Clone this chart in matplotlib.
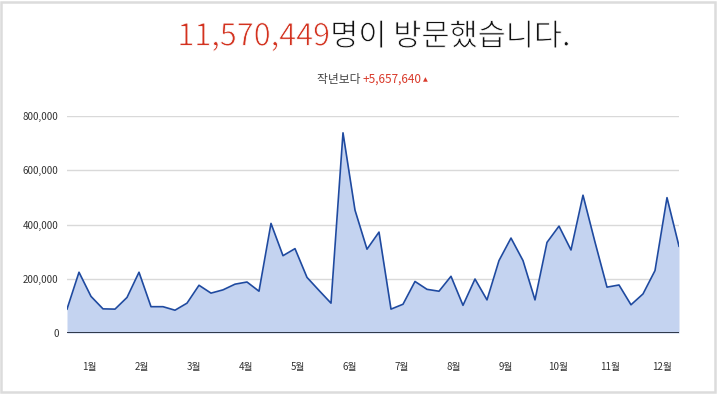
import matplotlib
matplotlib.use("Agg")
import matplotlib.pyplot as plt
from matplotlib.patches import Rectangle
from matplotlib.ticker import FuncFormatter
import matplotlib.patheffects as pe

plt.rcParams['font.family'] = ['Noto Sans CJK KR', 'DejaVu Sans']

# Weekly visitors (52 weeks)
visitors = [88000, 224000, 135000, 89000, 88000, 131000, 224000, 97000, 97000, 84000,
            110000, 176000, 147000, 159000, 180000, 188000, 154000, 404000, 285000, 311000,
            205000, 157000, 110000, 738000, 453000, 309000, 372000, 88000, 106000, 190000,
            161000, 154000, 209000, 102000, 199000, 122000, 267000, 350000, 267000, 122000,
            334000, 394000, 306000, 508000, 335000, 169000, 177000, 104000, 144000, 230000,
            499000, 320000]
month_labels = ['1월', '2월', '3월', '4월', '5월', '6월', '7월', '8월', '9월', '10월', '11월', '12월']
y_ticks = [0, 200000, 400000, 600000, 800000]
total_text = '11,570,449'
title_rest = '명이 방문했습니다.'
sub_label = '작년보다 '
sub_value = '+5,657,640'

fig = plt.figure(figsize=(7.2, 3.94), dpi=100)
fig.patch.set_facecolor('white')
fig.add_artist(Rectangle((0.002, 0.004), 0.991, 0.992, transform=fig.transFigure,
                         fill=False, edgecolor='#dcdcdc', linewidth=1.8))

ax = fig.add_axes([67/720, 1-333/394, (679-67)/720, (333-116)/394])
x = list(range(len(visitors)))
ax.fill_between(x, visitors, 0, color='#c4d3f0', linewidth=0)
ax.plot(x, visitors, color='#1f4aa0', linewidth=1.2)
ax.set_xlim(0, len(visitors) - 1)
ax.set_ylim(0, 800000)
ax.set_yticks(y_ticks)
ax.yaxis.set_major_formatter(FuncFormatter(lambda v, p: f'{int(v):,}'))
ax.grid(axis='y', color='#d9d9d9', linewidth=1)
ax.set_axisbelow(True)
ax.axhline(0, color='#222a3a', linewidth=1.3)
n = len(visitors)
month_pos = [(m + 0.5) * n / 12 - 0.27 for m in range(12)]
ax.set_xticks(month_pos)
ax.set_xticklabels(month_labels)
for s in ax.spines.values():
    s.set_visible(False)
ax.tick_params(axis='both', length=0, labelsize=7, colors='#333333')
ax.tick_params(axis='x', pad=21)
ax.tick_params(axis='y', pad=6)

thin = [pe.Stroke(linewidth=0.6, foreground='white')]

# Title
t1 = fig.text(0.5, 1-37/394, total_text, color='#d3321f', fontsize=22, fontweight='light',
              ha='left', va='center', path_effects=thin)
t2 = fig.text(0.5, 1-37/394, title_rest, color='#111111', fontsize=22, fontweight='light',
              ha='left', va='center', path_effects=thin)
fig.canvas.draw()
r = fig.canvas.get_renderer()
w1 = t1.get_window_extent(r).width
w2 = t2.get_window_extent(r).width
start = 374 - (w1 + w2) / 2
t1.set_x(start / 720)
t2.set_x((start + w1) / 720)

s1 = fig.text(0.5, 1-79/394, sub_label, color='#444444', fontsize=8.5, ha='left', va='center')
s2 = fig.text(0.5, 1-79/394, sub_value, color='#d93a2b', fontsize=8.5, ha='left', va='center')
s3 = fig.text(0.5, 1-80/394, '▲', color='#d93a2b', fontsize=4.5, ha='left', va='center',
              family=['DejaVu Sans'])
fig.canvas.draw()
a = s1.get_window_extent(r).width
b = s2.get_window_extent(r).width
c = s3.get_window_extent(r).width
st = 372 - (a + b + c + 1) / 2
s1.set_x(st / 720)
s2.set_x((st + a) / 720)
s3.set_x((st + a + b + 1) / 720)

fig.savefig('out.png', dpi=100, facecolor='white')
